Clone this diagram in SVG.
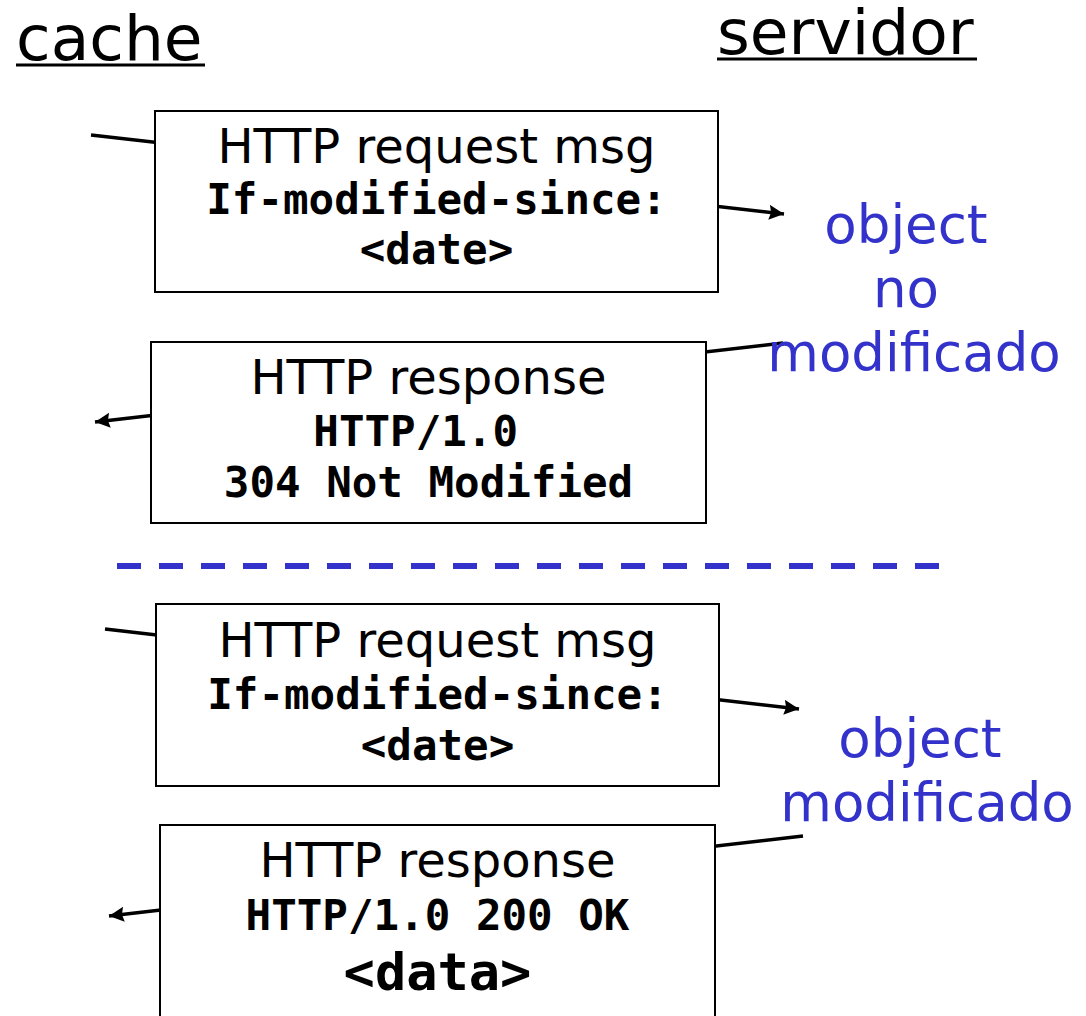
<svg xmlns="http://www.w3.org/2000/svg" width="1086" height="1016" viewBox="0 0 1086 1016">
<style>
.lbl{font-family:"DejaVu Sans",sans-serif;font-size:63px;fill:#000}
.ul{stroke:#000;stroke-width:3}
.box{fill:#fff;stroke:#000;stroke-width:2}
.t{font-family:"DejaVu Sans",sans-serif;font-size:48px;fill:#000;text-anchor:middle}
.m{font-family:"DejaVu Sans Mono",monospace;font-size:42.5px;font-weight:bold;fill:#000;text-anchor:middle}
.b{font-family:"DejaVu Sans",sans-serif;font-size:53px;fill:#3333CC;text-anchor:middle}
.c{stroke:#000;stroke-width:3.5;fill:none}
</style>
<defs>
<marker id="ah" markerUnits="userSpaceOnUse" markerWidth="16" markerHeight="16" refX="15" refY="7.5" orient="auto">
<path d="M0,0 L15,7.5 L0,15 L2,7.5 Z" fill="#000"/>
</marker>
</defs>
<g id="connectors">
<line class="c" x1="91" y1="135" x2="784" y2="214" marker-end="url(#ah)"/>
<line class="c" x1="783" y1="343" x2="95" y2="422" marker-end="url(#ah)"/>
<line class="c" x1="105" y1="629" x2="799" y2="709" marker-end="url(#ah)"/>
<line class="c" x1="803" y1="836" x2="109" y2="916" marker-end="url(#ah)"/>
<line x1="117" y1="566" x2="940" y2="566" stroke="#3333CC" stroke-width="6" stroke-dasharray="24 18"/>
</g>
<g id="cache">
<text class="lbl" x="16" y="60">cache</text>
<line class="ul" x1="16" y1="65" x2="205" y2="65"/>
</g>
<g id="servidor">
<text class="lbl" x="717" y="54">servidor</text>
<line class="ul" x1="717" y1="59" x2="977" y2="59"/>
</g>
<g id="req1">
<rect class="box" x="155" y="111" width="563" height="181"/>
<text class="t" x="436.5" y="163">HTTP request msg</text>
<text class="m" x="436.5" y="214">If-modified-since:</text>
<text class="m" x="436.5" y="264">&lt;date&gt;</text>
</g>
<g id="resp1">
<rect class="box" x="151" y="342" width="555" height="181"/>
<text class="t" x="428.5" y="394">HTTP response</text>
<text class="m" x="428.5" y="446" xml:space="preserve">HTTP/1.0 </text>
<text class="m" x="428.5" y="497">304 Not Modified</text>
</g>
<g id="note1">
<text class="b" x="906" y="243">object</text>
<text class="b" x="906" y="307">no</text>
<text class="b" x="914" y="371">modificado</text>
</g>
<g id="req2">
<rect class="box" x="156" y="604" width="563" height="182"/>
<text class="t" x="437.5" y="657">HTTP request msg</text>
<text class="m" x="437.5" y="709">If-modified-since:</text>
<text class="m" x="437.5" y="760">&lt;date&gt;</text>
</g>
<g id="resp2">
<rect class="box" x="160" y="825" width="555" height="200"/>
<text class="t" x="437.5" y="877">HTTP response</text>
<text class="m" x="437.5" y="930">HTTP/1.0 200 OK</text>
<text class="m" x="437.5" y="990" style="font-size:52px">&lt;data&gt;</text>
</g>
<g id="note2">
<text class="b" x="920" y="757">object</text>
<text class="b" x="927" y="821">modificado</text>
</g>
</svg>
